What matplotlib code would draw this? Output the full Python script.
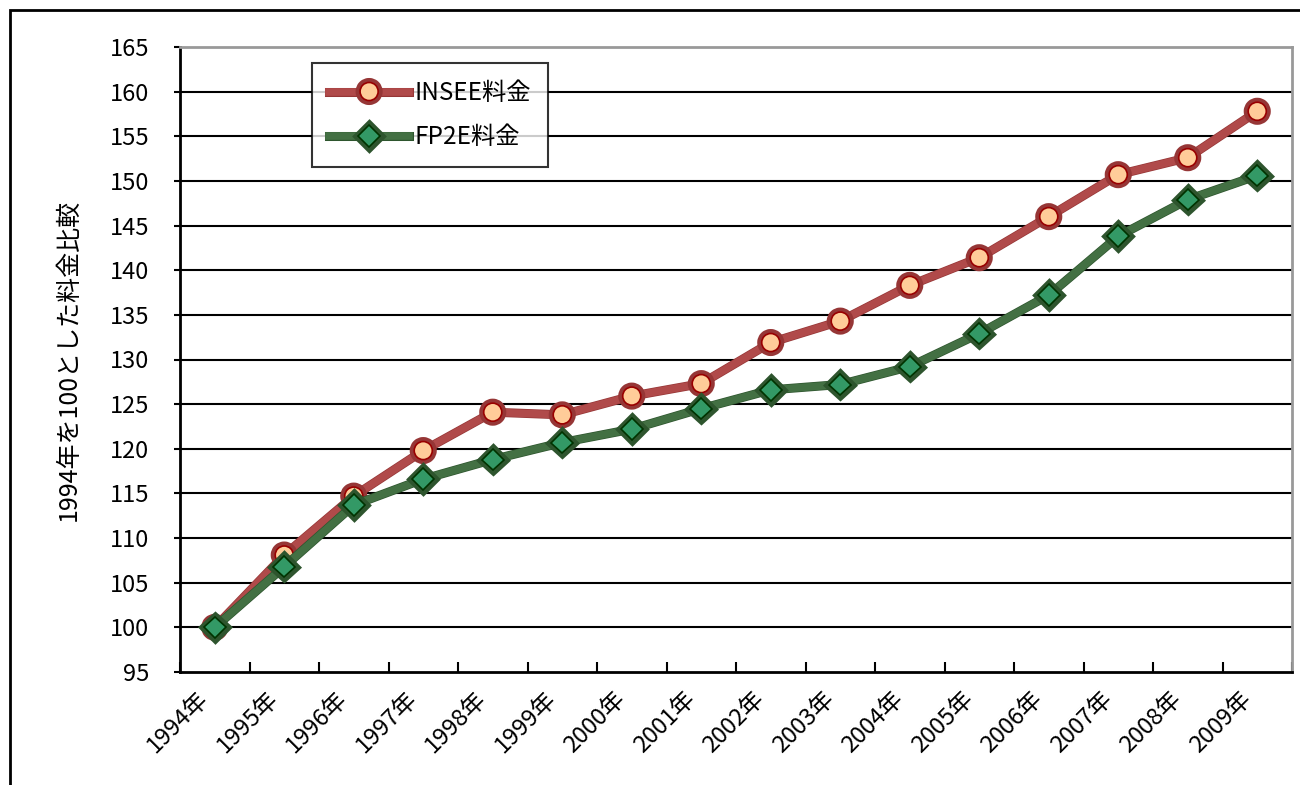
import matplotlib
matplotlib.use("Agg")
import matplotlib.pyplot as plt
import matplotlib.patheffects as pe
from matplotlib.patches import Rectangle
from matplotlib.transforms import ScaledTranslation

plt.rcParams["font.family"] = ["Noto Sans CJK JP", "DejaVu Sans"]

years = ["1994年", "1995年", "1996年", "1997年", "1998年", "1999年", "2000年", "2001年",
         "2002年", "2003年", "2004年", "2005年", "2006年", "2007年", "2008年", "2009年"]
insee = [100.0, 108.1, 114.7, 119.8, 124.1, 123.8, 125.9, 127.3,
         131.9, 134.3, 138.3, 141.4, 146.0, 150.7, 152.6, 157.8]
fp2e = [100.0, 106.8, 113.7, 116.6, 118.8, 120.7, 122.2, 124.5,
        126.6, 127.2, 129.2, 132.9, 137.2, 143.8, 147.9, 150.6]
y_ticks = list(range(95, 170, 5))

W, H = 1300, 785
fig = plt.figure(figsize=(W / 100, H / 100), dpi=100)
ax = fig.add_axes([180 / W, 1 - 672 / H, (1292 - 180) / W, (672 - 47) / H])

# outer chart border (only top and left visible in the reference)
fig.add_artist(Rectangle((10 / W, -0.1), 1.2, 1 - 10 / H + 0.1, transform=fig.transFigure,
                         fill=False, edgecolor="black", linewidth=2))

x = [i + 0.5 for i in range(len(years))]

ax.plot(x, insee, color="#B04A4A", linewidth=5.5, marker="o", markersize=13,
        markerfacecolor="#FFCC99", markeredgecolor="#990000", markeredgewidth=1.2,
        label="INSEE料金", zorder=3,
        path_effects=[pe.Stroke(linewidth=6.5, foreground="#963636"), pe.Normal()])
ax.plot(x, fp2e, color="#437043", linewidth=5.5, marker="D", markersize=11,
        markerfacecolor="#339966", markeredgecolor="#003300", markeredgewidth=1.2,
        label="FP2E料金", zorder=4,
        path_effects=[pe.Stroke(linewidth=6.5, foreground="#2E552E"), pe.Normal()])

ax.set_xlim(0, len(years))
ax.set_ylim(95, 165)
ax.set_yticks(y_ticks)
ax.tick_params(axis="y", labelsize=17, length=4, width=1.5, pad=18)
ax.set_xticks(range(len(years) + 1))
ax.set_xticklabels([])
ax.tick_params(axis="x", direction="in", length=7, width=1.5)
ax.set_xticks(x, minor=True)
ax.set_xticklabels(years, minor=True, rotation=45, ha="right", va="top",
                   rotation_mode="anchor", fontsize=17)
ax.tick_params(axis="x", which="minor", length=0, pad=11)
shift = ScaledTranslation(-18 / 100, 0, fig.dpi_scale_trans)
for lbl in ax.get_xticklabels(minor=True):
    lbl.set_transform(lbl.get_transform() + shift)

for v in y_ticks[1:-1]:
    ax.axhline(v, color="black", linewidth=1.5, zorder=1)

for side in ["left", "bottom"]:
    ax.spines[side].set_linewidth(2)
for side in ["top", "right"]:
    ax.spines[side].set_color("#999999")
    ax.spines[side].set_linewidth(2)

ax.set_ylabel("1994年を100とした料金比較", fontsize=18)
ax.yaxis.set_label_coords(-98 / (1292 - 180), 0.5)

leg = ax.legend(loc="upper left", bbox_to_anchor=((312 - 180) / (1292 - 180), 1 - (63 - 47) / 625),
                fontsize=17.5, frameon=True, fancybox=False, borderpad=0.7, labelspacing=0.75,
                handlelength=3.3, handletextpad=0.2, borderaxespad=0)
leg.get_frame().set_edgecolor("black")
leg.get_frame().set_linewidth(1.5)

fig.savefig("out.png", dpi=100)
